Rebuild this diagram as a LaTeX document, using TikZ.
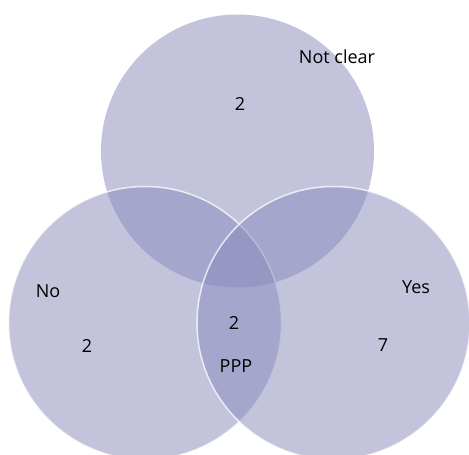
\documentclass[tikz,border=0pt]{standalone}
\usepackage{fontspec}
\setmainfont{Open Sans}
\definecolor{venn}{RGB}{135,137,186}

\begin{document}
\begin{tikzpicture}[x=1pt,y=-1pt,
  set/.style={shape=circle,fill=venn,fill opacity=.5,minimum size=273pt,inner sep=0pt},
  rim/.style={draw=white,draw opacity=.75,line width=1.5pt},
  lbl/.style={inner sep=0pt,font=\fontsize{18}{20}\selectfont}]
  \useasboundingbox (0,0) rectangle (469,455);
  \path (237.5,151) node[set] (notclear) {} (145,323) node[set,rim] (no) {}
  (333.5,323) node[set,rim] (yes) {};
  \path (337,57) node[lbl] (lnotclear) {Not clear} (240,104) node[lbl] (nnotclear) {2}
  (48,291) node[lbl] (lno) {No} (87,346) node[lbl] (nno) {2}
  (416,287) node[lbl] (lyes) {Yes} (383,345) node[lbl] (nyes) {7}
  (234,323) node[lbl] (nppp) {2} (236,366) node[lbl] (lppp) {PPP};
  \end{tikzpicture}
\end{document}
